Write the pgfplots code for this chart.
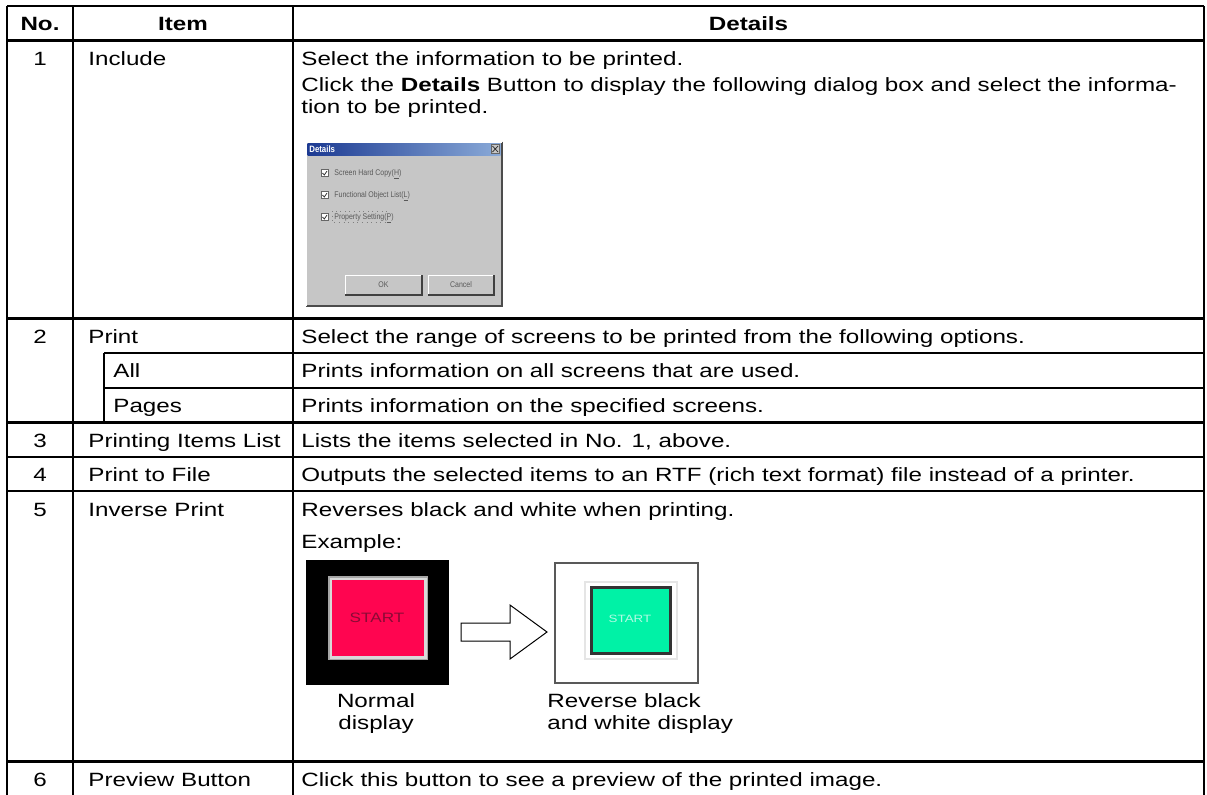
\documentclass[border=0pt]{standalone}
\usepackage{pgfplots}
\pgfplotsset{compat=1.18}
\usepackage{fontspec}
\setmainfont{Liberation Sans}[FakeStretch=1.26]
\newfontfamily\dlgfont{Liberation Sans}[FakeStretch=0.85]
\definecolor{pinkred}{HTML}{FF0550}
\definecolor{startred}{HTML}{8A0A35}
\definecolor{mint}{HTML}{00F2A6}
\definecolor{dlggray}{HTML}{C6C6C6}
\definecolor{titleL}{HTML}{1C3A92}
\definecolor{titleR}{HTML}{8AAAD8}
\tikzset{
  txt/.style={font=\fontsize{9.6}{10}\selectfont, inner sep=0pt, anchor=base west},
  ctxt/.style={font=\fontsize{9.6}{10}\selectfont, inner sep=0pt, anchor=base},
  tiny/.style={font=\dlgfont\fontsize{4.1}{5}\selectfont, inner sep=0pt, anchor=base west, text=black!65},
  rule/.style={line width=1.3pt, black},
  cbox/.style={fill=white, draw=black!60, line width=0.3pt},
  chk/.style={draw=black!80, line width=0.4pt}
}
\begin{document}
\begin{tikzpicture}
\begin{axis}[
  width=603.5pt, height=397pt, scale only axis,
  xmin=0, xmax=1207, ymin=0, ymax=794, y dir=reverse,
  hide axis, clip=false
]
% ---- table rules ----
\draw[rule] (7,6) -- (1204,6);
\draw[rule] (7,40.7) -- (1204,40.7);
\draw[rule] (7,318.5) -- (1204,318.5);
\draw[rule] (104,353) -- (1204,353);
\draw[rule] (104,388) -- (1204,388);
\draw[rule] (7,422.5) -- (1204,422.5);
\draw[rule] (7,457) -- (1204,457);
\draw[rule] (7,491) -- (1204,491);
\draw[rule] (7,761.5) -- (1204,761.5);
\draw[rule] (7,796) -- (1204,796);
\draw[rule] (7,6) -- (7,796);
\draw[rule] (73,6) -- (73,796);
\draw[rule] (104,353) -- (104,422.5);
\draw[rule] (293,6) -- (293,796);
\draw[rule] (1204,6) -- (1204,796);
% ---- header ----
\node[ctxt] at (40,30.5) {\bfseries No.};
\node[ctxt] at (183,30.5) {\bfseries Item};
\node[ctxt] at (748.5,30.5) {\bfseries Details};
% ---- row 1 ----
\node[ctxt] at (40,65) {1};
\node[txt] at (88,65) {Include};
\node[txt] at (301,65) {Select the information to be printed.};
\node[txt] at (301,91.5) {Click the \textbf{Details} Button to display the following dialog box and select the informa-};
\node[txt] at (301,113.5) {tion to be printed.};
% dialog picture
\fill[dlggray] (306,141.7) rectangle (502,306);
\draw[black!70, line width=0.6pt] (502,141.7) -- (502,306) -- (306,306);
\draw[white, line width=0.5pt] (306.5,306) -- (306.5,142) -- (502,142);
\shade[left color=titleL, right color=titleR] (307.5,143) rectangle (500.5,155);
\node[font=\dlgfont\fontsize{4.6}{5}\selectfont\bfseries, text=white, inner sep=0pt, anchor=base west] at (309,152.5) {Details};
\fill[dlggray] (491,144.5) rectangle (499.5,153.5);
\draw[black!60, line width=0.3pt] (491,144.5) rectangle (499.5,153.5);
\draw[black!80, line width=0.4pt] (492.5,146) -- (498,152) (498,146) -- (492.5,152);
% checkboxes
\path[cbox] (321,169.5) rectangle (328,176.5);
\draw[chk] (322.5,173) -- (324.3,175) -- (327,171);
\node[tiny] at (334,175.5) {Screen Hard Copy(\underline{H})};
\path[cbox] (321,191.5) rectangle (328,198.5);
\draw[chk] (322.5,195) -- (324.3,197) -- (327,193);
\node[tiny] at (334,197.5) {Functional Object List(\underline{L})};
\path[cbox] (321,213.5) rectangle (328,220.5);
\draw[chk] (322.5,217) -- (324.3,219) -- (327,215);
\node[tiny] at (334,219.5) {Property Setting(\underline{P})};
\draw[black!50, line width=0.3pt, dotted] (332,211) rectangle (387,222.5);
% buttons
\fill[dlggray] (345,275) rectangle (422,295);
\draw[white, line width=0.5pt] (345,295) -- (345,275) -- (422,275);
\draw[black!75, line width=0.7pt] (422,275) -- (422,295) -- (345,295);
\node[font=\dlgfont\fontsize{4.1}{5}\selectfont, text=black!65, inner sep=0pt] at (383.5,285) {OK};
\fill[dlggray] (428,275) rectangle (494,295);
\draw[white, line width=0.5pt] (428,295) -- (428,275) -- (494,275);
\draw[black!75, line width=0.7pt] (494,275) -- (494,295) -- (428,295);
\node[font=\dlgfont\fontsize{4.1}{5}\selectfont, text=black!65, inner sep=0pt] at (461,285) {Cancel};
% ---- row 2 ----
\node[ctxt] at (40,343) {2};
\node[txt] at (88,343) {Print};
\node[txt] at (301,343) {Select the range of screens to be printed from the following options.};
\node[txt] at (113,377.5) {All};
\node[txt] at (301,377.5) {Prints information on all screens that are used.};
\node[txt] at (113,412.5) {Pages};
\node[txt] at (301,412.5) {Prints information on the specified screens.};
% ---- row 3 ----
\node[ctxt] at (40,447) {3};
\node[txt] at (88,447) {Printing Items List};
\node[txt] at (301,447) {Lists the items selected in No. 1, above.};
% ---- row 4 ----
\node[ctxt] at (40,481.5) {4};
\node[txt] at (88,481.5) {Print to File};
\node[txt] at (301,481.5) {Outputs the selected items to an RTF (rich text format) file instead of a printer.};
% ---- row 5 ----
\node[ctxt] at (40,516) {5};
\node[txt] at (88,516) {Inverse Print};
\node[txt] at (301,516) {Reverses black and white when printing.};
\node[txt] at (301,548.5) {Example:};
% normal display
\fill[black] (306,560) rectangle (449,685);
\fill[black!35] (328,576) rectangle (428,660);
\fill[white!85!black] (329.5,577.5) rectangle (426.5,658.5);
\fill[pinkred] (332,580) rectangle (424,656);
\node[font=\fontsize{6.8}{7}\selectfont, text=startred, inner sep=0pt] at (377,618) {START};
% arrow
\draw[black, line width=0.5pt, fill=white] (461,623) -- (510,623) -- (510,605) -- (547,632) -- (510,659) -- (510,641) -- (461,641) -- cycle;
% reverse display
\draw[black!65, line width=0.6pt, fill=white] (555,563) rectangle (698,683);
\fill[black!10] (584,581) rectangle (678,660);
\fill[white] (586,583) rectangle (676,658);
\fill[black!80] (590,586) rectangle (672,655);
\fill[mint] (593,589) rectangle (669,652);
\node[font=\fontsize{5.3}{6}\selectfont, text=white!70!mint, inner sep=0pt] at (630,619) {START};
% captions
\node[ctxt] at (376,707) {Normal};
\node[ctxt] at (376,729) {display};
\node[txt] at (547,707) {Reverse black};
\node[txt] at (547,729) {and white display};
% ---- row 6 ----
\node[ctxt] at (40,786) {6};
\node[txt] at (88,786) {Preview Button};
\node[txt] at (301,786) {Click this button to see a preview of the printed image.};
\end{axis}
\pgfresetboundingbox
\path[use as bounding box] (current axis.south west) rectangle (current axis.north east);
\end{tikzpicture}
\end{document}
